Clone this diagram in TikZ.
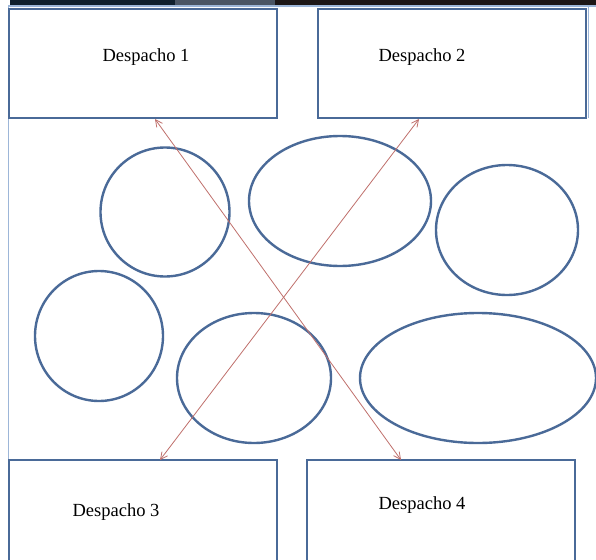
\documentclass[tikz,border=0pt]{standalone}
\usepackage{fontspec}
\setmainfont{Liberation Serif}
\usetikzlibrary{arrows.meta}
\definecolor{boxblue}{HTML}{4A6A98}
\definecolor{arrred}{HTML}{C0706C}
\definecolor{frameblue}{HTML}{9DB6D8}
\definecolor{stripA}{HTML}{10202E}
\definecolor{stripB}{HTML}{4A5564}
\definecolor{stripC}{HTML}{1C1616}
\tikzset{
  office/.style={draw=boxblue, line width=2.6pt, fill=white},
  zone/.style={draw=boxblue, line width=2.4pt},
  lbl/.style={font=\fontsize{18.5}{20}\selectfont, inner sep=0pt},
  link/.style={draw=arrred, line width=0.8pt, {Straight Barb[length=7pt,width=7pt]}-{Straight Barb[length=7pt,width=7pt]}}
}
\begin{document}
\begin{tikzpicture}[x=1pt,y=-1pt]
\useasboundingbox (0,0) rectangle (596,559);
\clip (0,0) rectangle (596,559);
\fill[white] (0,0) rectangle (596,559);
% top dark strip
\fill[stripA] (10,0) rectangle (175,6);
\fill[stripB] (175,0) rectangle (275,6);
\fill[stripC] (275,0) rectangle (596,6);
\fill[frameblue] (8,5.5) rectangle (596,7.5);
\draw[frameblue, line width=1pt] (8.5,6) -- (8.5,559);
\draw[frameblue, line width=1pt] (588.5,6) -- (588.5,118);
% boxes
\path[office] (9,9) rectangle (277,118);
\path[office] (318,9) rectangle (586,118);
\path[office] (9,460) rectangle (277,580);
\path[office] (307,460) rectangle (575,580);
\node[lbl] (t1) at (146,57) {Despacho 1};
\node[lbl] (t2) at (422,57) {Despacho 2};
\node[lbl] (t3) at (116,512) {Despacho 3};
\node[lbl] (t4) at (422,505) {Despacho 4};
% zones
\draw[zone] (165,212) ellipse [x radius=64.5, y radius=64.5];
\draw[zone] (340,201) ellipse [x radius=91, y radius=65];
\draw[zone] (507,230) ellipse [x radius=71, y radius=65];
\draw[zone] (99,336) ellipse [x radius=64, y radius=65];
\draw[zone] (254,378) ellipse [x radius=77, y radius=65];
\draw[zone] (478,378) ellipse [x radius=118, y radius=65];
% connectors
\coordinate (a1) at (155,119);
\coordinate (a4) at (401,460);
\coordinate (a2) at (419,119);
\coordinate (a3) at (160,460);
\draw[link] (a1) -- (a4);
\draw[link] (a2) -- (a3);
\end{tikzpicture}
\end{document}
